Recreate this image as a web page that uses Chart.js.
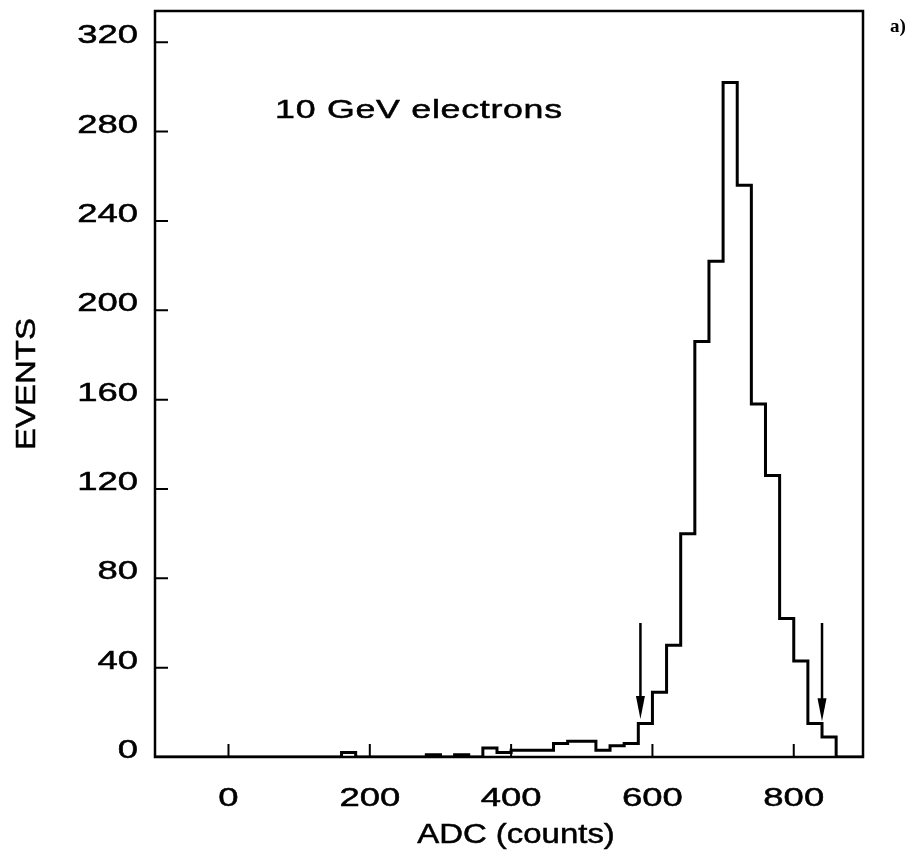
<!DOCTYPE html>
<html>
<head>
<meta charset="utf-8">
<script src="https://cdn.jsdelivr.net/npm/chart.js@4/dist/chart.umd.min.js"></script>
<style>
html,body{margin:0;padding:0;background:#fff;}
#wrap{width:916px;height:861px;position:relative;}
</style>
</head>
<body>
<div id="wrap"><canvas id="c" width="916" height="861"></canvas></div>
<script>
// ---- data ----
const binLeftEdges = [140,160,180,200,220,240,260,280,300,320,340,360,380,400,420,440,460,480,500,520,540,560,580,600,620,640,660,680,700,720,740,760,780,800,820,840];
const eventCounts  = [  0,  2,  0,  0,  0,  0,  0,  1,  0,  1,  0,  4,  2,  3,  3,  3,  6,  7,  7,  3,  5,  6, 15, 29, 50,100,186,222,302,256,158,126, 62, 43, 15,  9];
const binWidth = 20;
const xRange = [-104, 898];
const yRange = [0, 334];
const xTickValues = [0, 200, 400, 600, 800];
const yTickValues = [0, 40, 80, 120, 160, 200, 240, 280, 320];
const xTitle = 'ADC (counts)';
const yTitle = 'EVENTS';
const cutArrowX   = [583, 840];
const cutArrowTop = [60, 60];
const cutArrowTip = [17, 16];
const noteText = '10 GeV electrons';
const noteX = 66;
const noteY = 289;
const panelLabel = 'a)';

// ---- build histogram outline points ----
const histPoints = [{x: xRange[0], y: 0}];
binLeftEdges.forEach((e, i) => histPoints.push({x: e, y: eventCounts[i]}));
histPoints.push({x: binLeftEdges[binLeftEdges.length - 1] + binWidth, y: 0});
histPoints.push({x: xRange[1], y: 0});

const FAMILY = '"Liberation Sans", Arial, Helvetica, sans-serif';
const TEXT_STRETCH = 1.43;
const TITLE_STRETCH = 1.22;
const TEXT_WEIGHT_STROKE = 0.5;

function wideText(c, text, x, y, stretch, rotation) {
  c.save();
  c.translate(x, y);
  if (rotation) c.rotate(rotation);
  c.scale(stretch, 1);
  c.fillText(text, 0, 0);
  c.lineWidth = TEXT_WEIGHT_STROKE;
  c.strokeText(text, 0, 0);
  c.restore();
}

// wide (horizontally stretched) labels, as in the scanned original
function patchScale(s) {
  s.paddingTop = 0; s.paddingBottom = 0; s.paddingLeft = 0; s.paddingRight = 0;
  if (s._patched) return;
  s.drawTitle = function () {
    const t = this.options.title;
    if (!t.display) return;
    const c = this.ctx;
    const font = Chart.helpers.toFont(t.font);
    const pad = Chart.helpers.toPadding(t.padding);
    const off = font.lineHeight / 2 + pad.top;
    c.save();
    c.font = font.string;
    c.fillStyle = t.color;
    c.strokeStyle = t.color;
    c.textAlign = 'center';
    c.textBaseline = 'middle';
    if (this.isHorizontal()) {
      wideText(c, t.text, (this.left + this.right) / 2 + 7, this.bottom - off, TITLE_STRETCH, 0);
    } else {
      wideText(c, t.text, this.left + off, (this.top + this.bottom) / 2, TITLE_STRETCH, -Math.PI / 2);
    }
    c.restore();
  };
  s.drawLabels = function (area) {
    const c = this.ctx;
    const items = this.getLabelItems(area);
    for (const item of items) {
      const o = item.options;
      c.save();
      c.font = item.font.string;
      c.fillStyle = o.color;
      c.strokeStyle = o.color;
      c.textAlign = o.textAlign;
      c.textBaseline = 'middle';
      wideText(c, item.label, o.translation[0], o.translation[1] + item.textOffset, TEXT_STRETCH, 0);
      c.restore();
    }
  };
  s._patched = true;
}

const decorations = {
  id: 'decorations',
  afterDraw(chart) {
    const ctx = chart.ctx;
    const {left, right, top, bottom} = chart.chartArea;
    const xs = chart.scales.x, ys = chart.scales.y;
    ctx.save();
    ctx.strokeStyle = '#000';
    ctx.fillStyle = '#000';
    // frame
    ctx.lineWidth = 2.5;
    ctx.strokeRect(left, top, right - left, bottom - top);
    // inward ticks
    ctx.lineWidth = 2;
    ctx.beginPath();
    xs.ticks.forEach(t => {
      const px = xs.getPixelForValue(t.value);
      ctx.moveTo(px, bottom);
      ctx.lineTo(px, bottom - 13);
    });
    ys.ticks.forEach(t => {
      const py = ys.getPixelForValue(t.value);
      ctx.moveTo(left, py);
      ctx.lineTo(left + 13, py);
    });
    ctx.stroke();
    // cut arrows
    cutArrowX.forEach((ax, i) => {
      const px = xs.getPixelForValue(ax);
      const y1 = ys.getPixelForValue(cutArrowTop[i]);
      const y2 = ys.getPixelForValue(cutArrowTip[i]);
      ctx.lineWidth = 2.5;
      ctx.beginPath();
      ctx.moveTo(px, y1);
      ctx.lineTo(px, y2 - 18);
      ctx.stroke();
      ctx.beginPath();
      ctx.moveTo(px - 4.5, y2 - 23);
      ctx.lineTo(px + 4.5, y2 - 23);
      ctx.lineTo(px, y2);
      ctx.closePath();
      ctx.fill();
    });
    // annotation
    ctx.font = '25px ' + FAMILY;
    ctx.letterSpacing = '0.5px';
    ctx.textAlign = 'left';
    ctx.textBaseline = 'middle';
    wideText(ctx, noteText, xs.getPixelForValue(noteX), ys.getPixelForValue(noteY), TEXT_STRETCH, 0);
    ctx.letterSpacing = '0px';
    // panel label
    ctx.font = 'bold 19px "Liberation Serif", "Times New Roman", serif';
    ctx.textAlign = 'center';
    ctx.textBaseline = 'middle';
    ctx.fillText(panelLabel, right + 35, top + 16);
    ctx.restore();
  }
};

new Chart(document.getElementById('c'), {
  type: 'line',
  data: {
    datasets: [{
      data: histPoints,
      stepped: true,
      borderColor: '#000',
      borderWidth: 3,
      pointRadius: 0,
      fill: false,
      tension: 0
    }]
  },
  options: {
    responsive: false,
    animation: false,
    devicePixelRatio: 1,
    layout: {padding: {left: 0, right: 53, top: 11, bottom: 0}},
    plugins: {legend: {display: false}, tooltip: {enabled: false}},
    scales: {
      x: {
        type: 'linear',
        min: xRange[0],
        max: xRange[1],
        afterBuildTicks: s => { s.ticks = xTickValues.map(v => ({value: v})); },
        afterFit: s => { s.height = 104; patchScale(s); },
        grid: {display: false, drawTicks: false},
        border: {display: false},
        ticks: {
          color: '#000', padding: 27, maxRotation: 0, autoSkip: false,
          font: {family: FAMILY, size: 25.5}
        },
        title: {
          display: true, text: xTitle, color: '#000',
          font: {family: FAMILY, size: 27}, padding: {top: 9, bottom: 0}
        }
      },
      y: {
        type: 'linear',
        min: yRange[0],
        max: yRange[1],
        afterBuildTicks: s => { s.ticks = yTickValues.map(v => ({value: v})); },
        afterFit: s => { s.width = 155; patchScale(s); },
        grid: {display: false, drawTicks: false},
        border: {display: false},
        ticks: {
          color: '#000', padding: 17, labelOffset: -6,
          font: {family: FAMILY, size: 25.5}
        },
        title: {
          display: true, text: yTitle, color: '#000',
          font: {family: FAMILY, size: 27}, padding: {top: 11, bottom: 0}
        }
      }
    }
  },
  plugins: [decorations]
});
</script>
</body>
</html>
